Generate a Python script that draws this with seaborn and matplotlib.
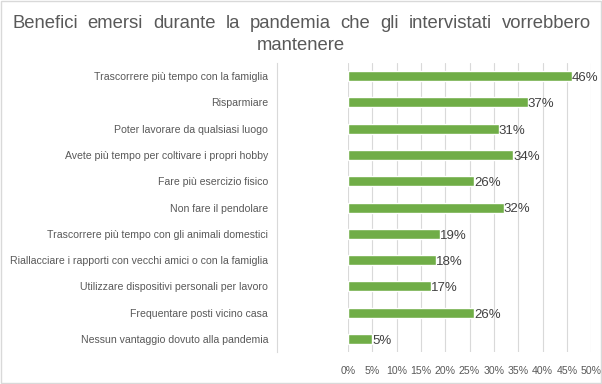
import matplotlib
matplotlib.use("Agg")
import matplotlib.pyplot as plt
import matplotlib.ticker as mticker
import numpy as np
import pandas as pd
import seaborn as sns

categories = [
    "Trascorrere più tempo con la famiglia",
    "Risparmiare",
    "Poter lavorare da qualsiasi luogo",
    "Avete più tempo per coltivare i propri hobby",
    "Fare più esercizio fisico",
    "Non fare il pendolare",
    "Trascorrere più tempo con gli animali domestici",
    "Riallacciare i rapporti con vecchi amici o con la famiglia",
    "Utilizzare dispositivi personali per lavoro",
    "Frequentare posti vicino casa",
    "Nessun vantaggio dovuto alla pandemia",
]
values = [0.46, 0.37, 0.31, 0.34, 0.26, 0.32, 0.19, 0.18, 0.17, 0.26, 0.05]

title_line1 = "Benefici emersi durante la pandemia che gli intervistati vorrebbero"
title_line2 = "mantenere"

df = pd.DataFrame({"categoria": categories, "valore": values})

sns.set_theme(style="white")
plt.rcParams["font.family"] = ["Liberation Sans", "DejaVu Sans"]

text_col = "#595959"
grid_col = "#D9D9D9"

fig = plt.figure(figsize=(6.02, 3.84), dpi=100)
ax = fig.add_axes([0.578, 0.083, 0.404, 0.753])

sns.barplot(data=df, x="valore", y="categoria", color="#70AD47",
            width=0.38, saturation=1, ax=ax, zorder=3)

ax.set_xlim(0, 0.5)
ax.set_ylim(len(categories) - 0.5, -0.5)
ax.xaxis.set_major_locator(mticker.MultipleLocator(0.05))
ax.xaxis.set_major_formatter(mticker.FuncFormatter(lambda v, p: f"{v*100:.0f}%"))
ax.grid(axis="x", color=grid_col, linewidth=0.8, zorder=0)
ax.set_xlabel("")
ax.set_ylabel("")

for s in ["top", "right", "bottom"]:
    ax.spines[s].set_visible(False)
# the category axis line sits apart from the 0% gridline
ax.spines["left"].set_position(("outward", 51))
ax.spines["left"].set_color(grid_col)
ax.spines["left"].set_linewidth(0.8)

ax.tick_params(axis="x", length=0, labelsize=7.6, labelcolor=text_col, pad=10)
ax.tick_params(axis="y", which="major", length=0, labelsize=7.6,
               labelcolor=text_col, pad=6.5)
ax.set_yticks(np.arange(-0.5, len(categories), 1), minor=True)
ax.tick_params(axis="y", which="minor", length=4, color=grid_col, width=0.8)

for i, v in enumerate(values):
    ax.text(v, i + 0.07, f"{v*100:.0f}%", va="center", ha="left",
            fontsize=9.5, color="#404040", zorder=4)

# justified first title line, centred second line
title_kw = dict(fontsize=13.3, color=text_col, va="baseline")
fig.canvas.draw()
renderer = fig.canvas.get_renderer()
words = title_line1.split()
x_left, x_right = 12 / 602, 591 / 602
arts = [fig.text(0, 1 - 28 / 384, w, ha="left", **title_kw) for w in words]
widths = [a.get_window_extent(renderer).width / fig.bbox.width for a in arts]
gap = (x_right - x_left - sum(widths)) / (len(words) - 1)
x = x_left
for a, w in zip(arts, widths):
    a.set_x(x)
    x += w + gap
fig.text(0.5, 1 - 50 / 384, title_line2, ha="center", **title_kw)

fig.patches.append(plt.Rectangle((0.002, 0.003), 0.996, 0.994, transform=fig.transFigure,
                                 fill=False, edgecolor=grid_col, linewidth=1))

fig.savefig("out.png", dpi=100)
